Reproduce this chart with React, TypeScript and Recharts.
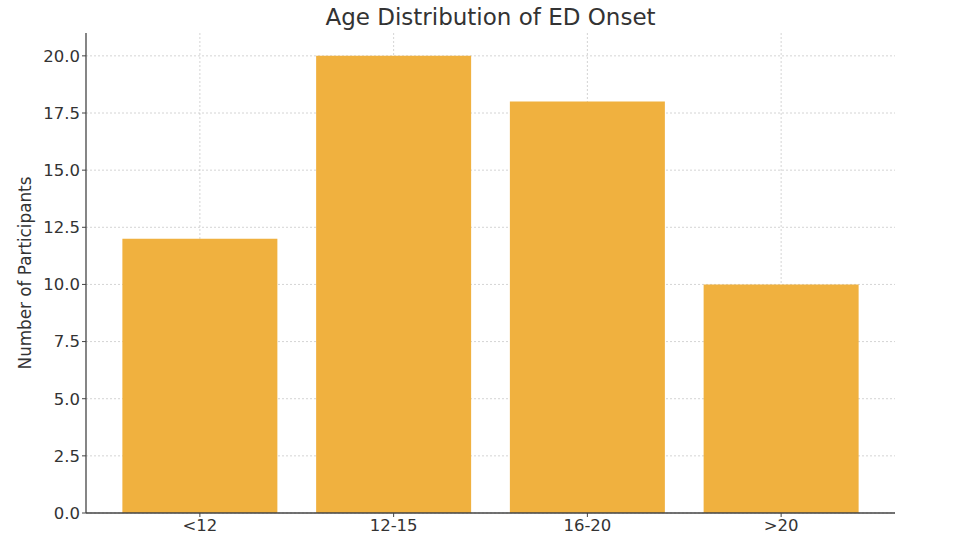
import React from "react";
import { BarChart, Bar, XAxis, YAxis, CartesianGrid } from "recharts";

const ageGroups = ["<12", "12-15", "16-20", ">20"];
const participants = [12, 20, 18, 10];
const yTicks = [0, 2.5, 5, 7.5, 10, 12.5, 15, 17.5, 20];

const data = ageGroups.map((label, i) => ({ label, value: participants[i] }));

const FONT = "'DejaVu Sans', sans-serif";
const TEXT = "#333333";
const X_PAD = 17;

const YLabel = () => (
  <text
    x={25}
    y={273}
    transform="rotate(-90 25 273)"
    textAnchor="middle"
    dominantBaseline="central"
    fontSize={16.8}
    fontFamily={FONT}
    fill={TEXT}
  >
    Number of Participants
  </text>
);

// vertical grid lines only at category centres (no line on the plot edge)
const verticalGrid = ({ xAxis, offset }: any) => {
  const scale = xAxis?.scale;
  if (typeof scale === "function" && typeof scale.bandwidth === "function") {
    return ageGroups.map((g) => scale(g) + scale.bandwidth() / 2);
  }
  const band = (offset.width - 2 * X_PAD) / ageGroups.length;
  return ageGroups.map((_, i) => offset.left + X_PAD + band * (i + 0.5));
};

export default function App() {
  return (
    <div style={{ position: "absolute", left: 0, top: 0, width: 963, height: 557, background: "#fff" }}>
      <div
        style={{
          position: "absolute",
          left: 86,
          width: 809,
          top: 4,
          textAlign: "center",
          fontFamily: FONT,
          fontSize: 23,
          color: TEXT,
        }}
      >
        Age Distribution of ED Onset
      </div>
      <BarChart
        width={963}
        height={557}
        data={data}
        margin={{ top: 33, right: 68, left: 0, bottom: 14 }}
        barCategoryGap="10%"
      >
        <XAxis
          dataKey="label"
          height={30}
          padding={{ left: X_PAD, right: X_PAD }}
          tickSize={4}
          tickMargin={2}
          axisLine={{ stroke: "#444", strokeWidth: 1.3 }}
          tickLine={{ stroke: "#444" }}
          tick={{ fontSize: 16.5, fill: TEXT, fontFamily: FONT }}
        />
        <YAxis
          width={86}
          domain={[0, 21]}
          ticks={yTicks}
          tickFormatter={(v: number) => v.toFixed(1)}
          tickSize={4}
          tickMargin={2}
          axisLine={{ stroke: "#444", strokeWidth: 1.3 }}
          tickLine={{ stroke: "#444" }}
          tick={{ fontSize: 16.5, fill: TEXT, fontFamily: FONT }}
          label={<YLabel />}
        />
        <Bar dataKey="value" fill="#F0B13F" isAnimationActive={false} />
        <CartesianGrid
          strokeDasharray="2 2"
          stroke="#b8b8b8"
          strokeOpacity={0.6}
          horizontalValues={yTicks}
          verticalCoordinatesGenerator={verticalGrid}
        />
      </BarChart>
    </div>
  );
}
